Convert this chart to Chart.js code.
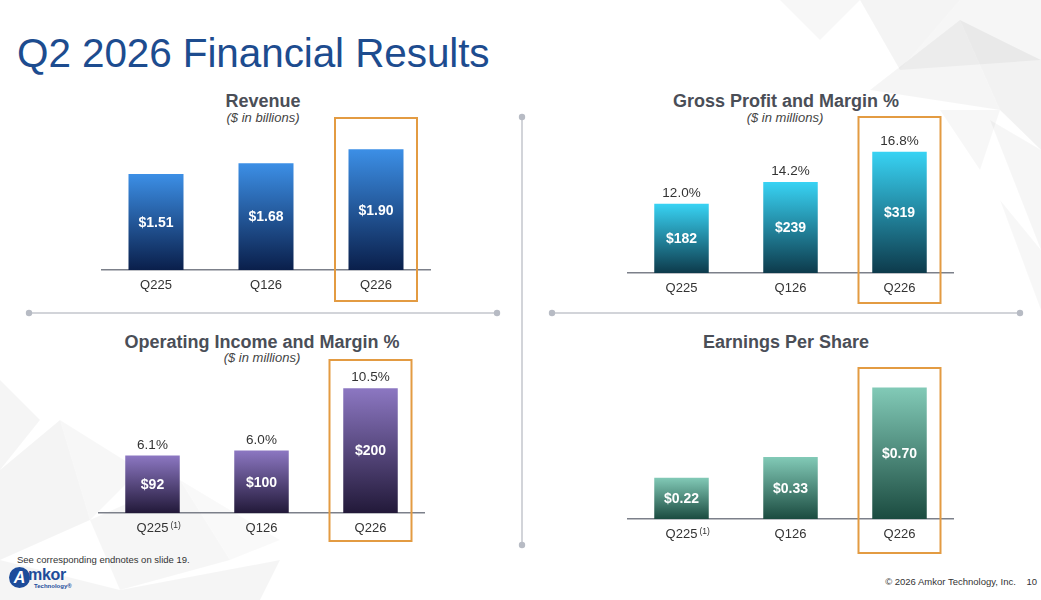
<!DOCTYPE html>
<html>
<head>
<meta charset="utf-8">
<script src="https://cdn.jsdelivr.net/npm/chart.js@4.4.1/dist/chart.umd.min.js"></script>
<style>
  body { margin: 0; width: 1041px; height: 600px; position: relative; overflow: hidden; background: #fff;
         font-family: "Liberation Sans", Arial, sans-serif; color: #333; }
  .abs { position: absolute; }
  #bg { left: 0; top: 0; }
  h1 { position: absolute; left: 17px; top: 30px; margin: 0; font-size: 40.5px; font-weight: normal; color: #1d4c8f; letter-spacing: -0.1px; }
  .ttl { position: absolute; text-align: center; width: 400px; font-weight: bold; font-size: 18px; color: #4a4e57; }
  .sub { position: absolute; text-align: center; width: 400px; font-style: italic; font-size: 13px; color: #444; }
  canvas { position: absolute; }
  .note { left: 17px; top: 554px; font-size: 9.5px; color: #333; }
  .copy { right: 4px; top: 576px; font-size: 9.5px; color: #333; }
  .logo { left: 9px; top: 567px; width: 70px; height: 26px; }
  .logo .c { position: absolute; left: 0; top: 0; width: 21px; height: 21px; border-radius: 50%; background: #1d4c9a; color: #fff;
             font-weight: bold; font-size: 16px; text-align: center; line-height: 22px; font-style: italic; }
  .logo .m { position: absolute; left: 19px; top: -1px; font-weight: bold; font-size: 16px; color: #1d4c9a; letter-spacing: -0.3px; }
  .logo .t { position: absolute; left: 25px; top: 16px; font-weight: bold; font-size: 6px; color: #1d4c9a; }
</style>
</head>
<body>
<svg id="bg" class="abs" width="1041" height="600">
  <g fill="#000">
    <polygon points="780,0 860,0 820,40" opacity="0.03"/>
    <polygon points="860,0 960,0 900,70" opacity="0.045"/>
    <polygon points="900,70 960,0 1041,0 1041,60" opacity="0.035"/>
    <polygon points="870,90 960,20 1000,110" opacity="0.04"/>
    <polygon points="960,20 1041,60 1041,150 1000,110" opacity="0.05"/>
    <polygon points="990,120 1041,150 1041,250" opacity="0.035"/>
    <polygon points="940,110 1000,110 980,170" opacity="0.03"/>
    <polygon points="1000,200 1041,250 1041,310" opacity="0.03"/>
    <polygon points="0,380 40,420 0,470" opacity="0.04"/>
    <polygon points="0,470 60,420 90,520 0,560" opacity="0.045"/>
    <polygon points="60,420 140,470 90,520" opacity="0.03"/>
    <polygon points="90,520 180,480 230,560 120,590" opacity="0.035"/>
    <polygon points="0,560 120,590 280,560 260,600 0,600" opacity="0.04"/>
    <polygon points="180,480 280,540 230,560" opacity="0.025"/>
  </g>
</svg>

<h1>Q2 2026 Financial Results</h1>

<div class="ttl" style="left:63px;top:91px;">Revenue</div>
<div class="sub" style="left:63px;top:110px;">($ in billions)</div>
<div class="ttl" style="left:586px;top:91px;">Gross Profit and Margin %</div>
<div class="sub" style="left:585px;top:110px;">($ in millions)</div>
<div class="ttl" style="left:62px;top:332px;">Operating Income and Margin %</div>
<div class="sub" style="left:62px;top:350px;">($ in millions)</div>
<div class="ttl" style="left:586px;top:332px;">Earnings Per Share</div>

<svg class="abs" style="left:0;top:0" width="1041" height="600">
  <g stroke="#c3c6cd" stroke-width="1.5" fill="#b7bbc4">
    <line x1="522" y1="117" x2="522" y2="545"/>
    <circle cx="522" cy="117" r="3.2" stroke="none"/>
    <circle cx="522" cy="545" r="3.2" stroke="none"/>
    <line x1="29" y1="313" x2="497" y2="313"/>
    <circle cx="29" cy="313" r="3.2" stroke="none"/>
    <circle cx="497" cy="313" r="3.2" stroke="none"/>
    <line x1="552" y1="313" x2="1020" y2="313"/>
    <circle cx="552" cy="313" r="3.2" stroke="none"/>
    <circle cx="1020" cy="313" r="3.2" stroke="none"/>
  </g>
</svg>

<canvas id="revChart" width="330" height="190" style="left:101px;top:115px;"></canvas>
<canvas id="gpChart" width="327" height="192" style="left:627px;top:114px;"></canvas>
<canvas id="oiChart" width="327" height="190" style="left:98px;top:357px;"></canvas>
<canvas id="epsChart" width="327" height="192" style="left:627px;top:365px;"></canvas>

<div class="abs note">See corresponding endnotes on slide 19.</div>
<div class="abs logo"><span class="c">A</span><span class="m">mkor</span><span class="t">Technology®</span></div>
<div class="abs copy">© 2026 Amkor Technology, Inc.&nbsp;&nbsp;&nbsp; 10</div>

<script>
// Data
const quarters = ['Q225', 'Q126', 'Q226'];
const revenue = [1.51, 1.68, 1.90];           // $ billions
const grossProfit = [182, 239, 319];          // $ millions
const grossMargin = [12.0, 14.2, 16.8];       // %
const opIncome = [92, 100, 200];              // $ millions
const opMargin = [6.1, 6.0, 10.5];            // %
const eps = [0.22, 0.33, 0.70];               // $
const highlightQuarter = 'Q226';
const footnoteQuarter = 'Q225';

const FONT = "'Liberation Sans', Arial, sans-serif";
const BOX_COLOR = '#e39b42';

// vertical gradient per bar, light at top, dark at the baseline
function barGradient(top, bottom) {
    return (ctx) => {
        const chart = ctx.chart;
        const y = chart.scales.y;
        if (!chart.chartArea || !y || ctx.raw == null) return bottom;
        const y0 = y.getPixelForValue(0);
        const y1 = y.getPixelForValue(ctx.raw);
        const g = chart.ctx.createLinearGradient(0, y1, 0, y0);
        g.addColorStop(0, top);
        g.addColorStop(1, bottom);
        return g;
    };
}

// draws value labels, margin % labels, the highlight box and footnote markers
function slidePlugin(cfg) {
    return {
        id: 'slide',
        afterDraw(chart) {
            const c = chart.ctx;
            const xs = chart.scales.x;
            const meta = chart.getDatasetMeta(0);
            c.save();
            meta.data.forEach((bar, i) => {
                const mid = (bar.y + bar.base) / 2;
                c.fillStyle = '#fff';
                c.font = 'bold 14px ' + FONT;
                c.textAlign = 'center';
                c.textBaseline = 'middle';
                c.fillText(cfg.inner(cfg.values[i]), bar.x, mid + 1);
                if (cfg.above) {
                    c.fillStyle = '#333';
                    c.font = '13.5px ' + FONT;
                    c.textBaseline = 'alphabetic';
                    c.fillText(cfg.above[i].toFixed(1) + '%', bar.x, bar.y - 7);
                }
            });
            // highlight box around current quarter
            const hx = xs.getPixelForValue(quarters.indexOf(highlightQuarter));
            c.strokeStyle = BOX_COLOR;
            c.lineWidth = 2;
            c.strokeRect(hx - 41, 3, 82, chart.chartArea.bottom + cfg.boxBelow - 3);
            // footnote marker
            if (cfg.footnote) {
                const fi = quarters.indexOf(footnoteQuarter);
                const fx = xs.getPixelForValue(fi);
                c.font = '13px ' + FONT;
                const w = c.measureText(footnoteQuarter).width;
                c.fillStyle = '#333';
                c.font = '8.5px ' + FONT;
                c.textAlign = 'left';
                c.textBaseline = 'alphabetic';
                c.fillText('(1)', fx + w / 2 + 2, chart.chartArea.bottom + 15);
            }
            c.restore();
        }
    };
}

function makeChart(id, values, colors, yMax, padBottom, cfg) {
    cfg.values = values;
    return new Chart(document.getElementById(id), {
        type: 'bar',
        data: {
            labels: quarters,
            datasets: [{
                data: values,
                backgroundColor: barGradient(colors[0], colors[1]),
                borderWidth: 0,
                barPercentage: 0.5,
                categoryPercentage: 1.0
            }]
        },
        options: {
            responsive: false,
            animation: false,
            events: [],
            layout: { padding: { top: 0, left: 0, right: 0, bottom: padBottom } },
            plugins: { legend: { display: false }, tooltip: { enabled: false } },
            scales: {
                x: {
                    grid: { display: false, drawTicks: false },
                    border: { display: true, color: '#7c808a', width: 1.5 },
                    ticks: { color: '#333', font: { family: FONT, size: 13 }, padding: 8 }
                },
                y: { display: false, min: 0, max: yMax }
            }
        },
        plugins: [slidePlugin(cfg)]
    });
}

Chart.defaults.font.family = FONT;

makeChart('revChart', revenue, ['#3c8fe6', '#0a1f4b'], 2.44, 3.4,
    { inner: v => '$' + v.toFixed(2), boxBelow: 31 });
makeChart('gpChart', grossProfit, ['#38d3f4', '#0d3a4b'], 418, 1.4,
    { inner: v => '$' + v, above: grossMargin, boxBelow: 30 });
makeChart('oiChart', opIncome, ['#8c77c2', '#221939'], 250, 2.4,
    { inner: v => '$' + v, above: opMargin, footnote: true, boxBelow: 28 });
makeChart('epsChart', eps, ['#82cab7', '#1b4b40'], 0.82, 6.4,
    { inner: v => '$' + v.toFixed(2), footnote: true, boxBelow: 34 });
</script>
</body>
</html>
